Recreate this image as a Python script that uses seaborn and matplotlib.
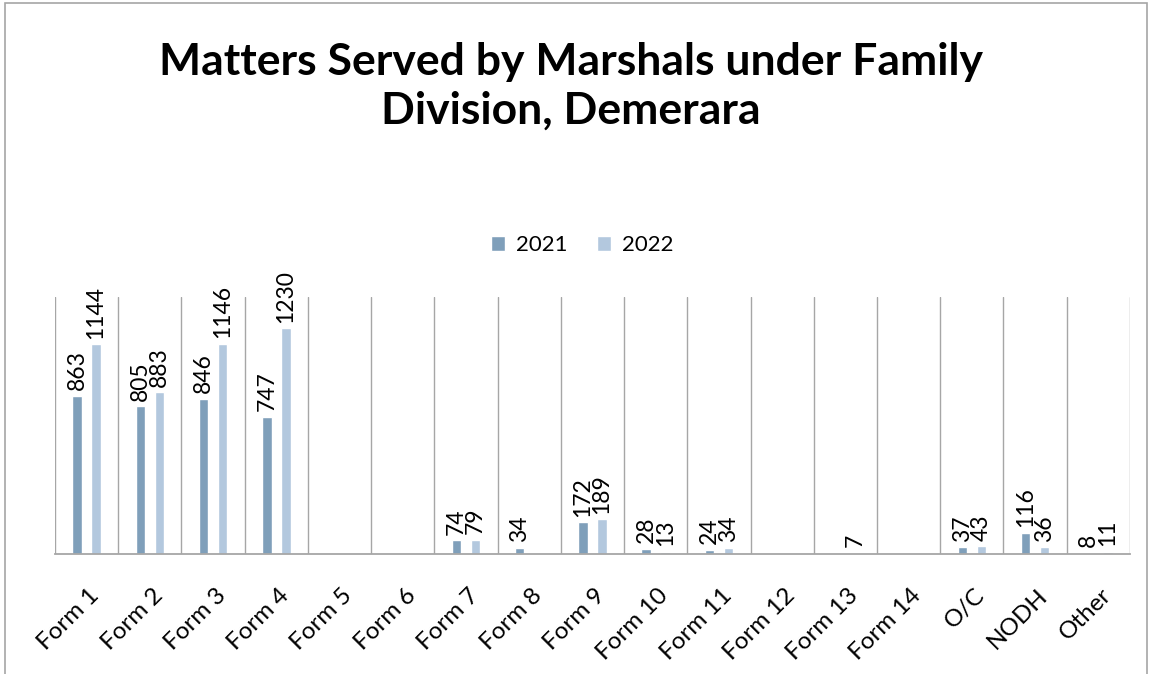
import numpy as np
import pandas as pd
import seaborn as sns
import matplotlib.pyplot as plt
from matplotlib.patches import Rectangle
from matplotlib.transforms import ScaledTranslation

categories = ["Form 1", "Form 2", "Form 3", "Form 4", "Form 5", "Form 6", "Form 7",
              "Form 8", "Form 9", "Form 10", "Form 11", "Form 12", "Form 13",
              "Form 14", "O/C", "NODH", "Other"]
values_2021 = [863, 805, 846, 747, np.nan, np.nan, 74, 34, 172, 28, 24, np.nan,
               np.nan, np.nan, 37, 116, 8]
values_2022 = [1144, 883, 1146, 1230, np.nan, np.nan, 79, np.nan, 189, 13, 34,
               np.nan, 7, np.nan, 43, 36, 11]
series = ["2021", "2022"]
colors = ["#7f9fba", "#b3c8de"]

df = pd.DataFrame({
    "Category": categories * 2,
    "Year": [series[0]] * len(categories) + [series[1]] * len(categories),
    "Value": values_2021 + values_2022,
})

sns.set_theme(style="white")
plt.rcParams["font.family"] = ["Lato", "DejaVu Sans"]
plt.rcParams["text.color"] = "black"
plt.rcParams["xtick.color"] = "black"
plt.rcParams["axes.labelcolor"] = "black"

fig = plt.figure(figsize=(11.53, 6.74), dpi=100)
ax = fig.add_axes([0.0477, 0.178, 0.9323, 0.381])

sns.barplot(data=df, x="Category", y="Value", hue="Year", order=categories,
            hue_order=series, palette=colors, width=0.6, gap=0.5,
            saturation=1, ax=ax, errorbar=None)

ax.set_ylim(0, 1400)
ax.set_xlim(-0.5, len(categories) - 0.5)
ax.set_xlabel("")
ax.set_ylabel("")
ax.set_yticks([])

for b in np.arange(-0.5, len(categories) + 0.5, 1.0):
    ax.axvline(b, color="#a6a6a6", lw=1.0, zorder=0)

for s in ["top", "left", "right"]:
    ax.spines[s].set_visible(False)
ax.spines["bottom"].set_color("#a6a6a6")
ax.spines["bottom"].set_linewidth(1.3)

for cont in ax.containers:
    labels = ["" if np.isnan(v) else f"{int(v)}" for v in cont.datavalues]
    ax.bar_label(cont, labels=labels, rotation=90, padding=4, fontsize=16.5,
                 color="black", clip_on=False)

ax.set_xticks(range(len(categories)))
ax.set_xticklabels(categories, rotation=45, ha="right", rotation_mode="anchor",
                   fontsize=17.5, color="black")
ax.tick_params(axis="x", length=0, pad=22)
shift = ScaledTranslation(2 / 100, 0, fig.dpi_scale_trans)
for t in ax.get_xticklabels():
    t.set_transform(t.get_transform() + shift)

handles, labs = ax.get_legend_handles_labels()
ax.legend(handles, labs, loc="center", bbox_to_anchor=(0.505, 0.6365),
          bbox_transform=fig.transFigure, ncol=2, frameon=False, fontsize=16,
          handlelength=0.65, handleheight=0.65, handletextpad=0.5,
          columnspacing=1.3, labelcolor="black")

fig.text(0.495, 0.872, "Matters Served by Marshals under Family\nDivision, Demerara",
         ha="center", va="center", fontsize=32, fontweight="bold",
         linespacing=1.28, color="black")

fig.patches.append(Rectangle((0.004, -0.01), 0.991, 1.006, transform=fig.transFigure,
                             fill=False, edgecolor="#a6a6a6", lw=1.2))

fig.savefig("out.png", dpi=100)
